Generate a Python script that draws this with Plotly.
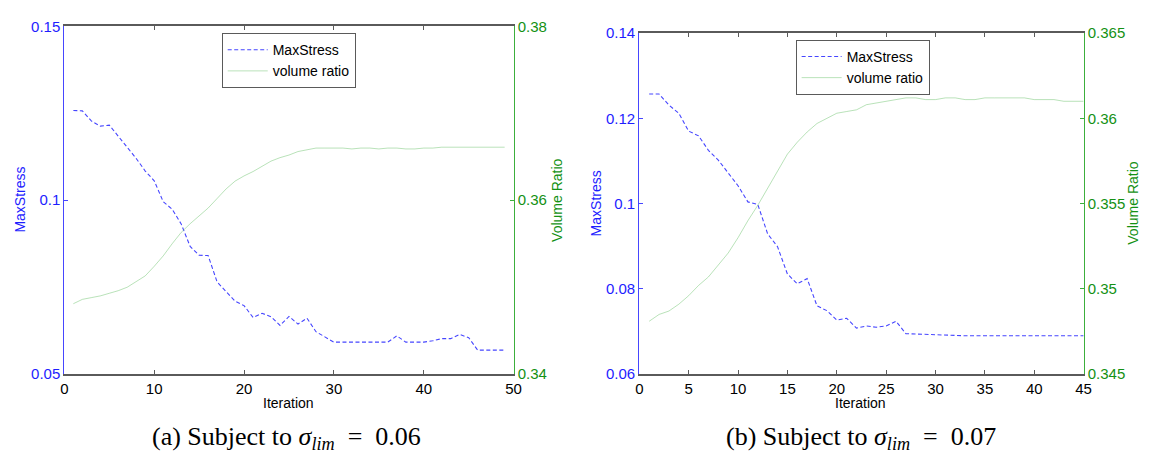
import plotly.graph_objects as go

# ---------------- data ----------------
iter_a = list(range(1, 50))
stress_a = [0.1258, 0.1257, 0.1228, 0.1213, 0.1216, 0.1185, 0.1153, 0.1120, 0.1084, 0.1056,
            0.0996, 0.0974, 0.0932, 0.0867, 0.0842, 0.0841, 0.0765, 0.0737, 0.0710, 0.0697,
            0.0663, 0.0675, 0.0665, 0.0640, 0.0666, 0.0644, 0.0661, 0.0622, 0.0608, 0.0592,
            0.0592, 0.0592, 0.0592, 0.0592, 0.0592, 0.0592, 0.0610, 0.0592, 0.0592, 0.0592,
            0.0596, 0.0602, 0.0602, 0.0614, 0.0605, 0.0569, 0.0569, 0.0569, 0.0569]
volume_a = [0.3481, 0.3486, 0.3488, 0.3490, 0.3493, 0.3496, 0.3500, 0.3506, 0.3513, 0.3524,
            0.3536, 0.3550, 0.3563, 0.3573, 0.3582, 0.3591, 0.3602, 0.3613, 0.3622, 0.3628,
            0.3633, 0.3639, 0.3645, 0.3649, 0.3652, 0.3656, 0.3658, 0.3660, 0.3660, 0.3660,
            0.3660, 0.3659, 0.3660, 0.3660, 0.3659, 0.3660, 0.3660, 0.3659, 0.3659, 0.3660,
            0.3660, 0.3661, 0.3661, 0.3661, 0.3661, 0.3661, 0.3661, 0.3661, 0.3661]

iter_b = list(range(1, 46))
stress_b = [0.1257, 0.1257, 0.1231, 0.1212, 0.1170, 0.1159, 0.1125, 0.1102, 0.1072, 0.1042,
            0.1004, 0.0998, 0.0929, 0.0899, 0.0835, 0.0812, 0.0824, 0.0760, 0.0749, 0.0727,
            0.0731, 0.0708, 0.0713, 0.0710, 0.0713, 0.0724, 0.0695, 0.0694, 0.0694, 0.0693,
            0.0691, 0.0690, 0.0690, 0.0690, 0.0690, 0.0690, 0.0690, 0.0690, 0.0690, 0.0690,
            0.0690, 0.0690, 0.0690, 0.0690, 0.0690]
volume_b = [0.3481, 0.3485, 0.3487, 0.3491, 0.3496, 0.3502, 0.3507, 0.3514, 0.3521, 0.3530,
            0.3540, 0.3549, 0.3559, 0.3569, 0.3579, 0.3586, 0.3592, 0.3597, 0.3600, 0.3603,
            0.3604, 0.3605, 0.3608, 0.3609, 0.3610, 0.3611, 0.3612, 0.3612, 0.3611, 0.3611,
            0.3612, 0.3612, 0.3611, 0.3611, 0.3612, 0.3612, 0.3612, 0.3612, 0.3612, 0.3611,
            0.3611, 0.3611, 0.3610, 0.3610, 0.3610]

legend_names = ["MaxStress", "volume ratio"]
captions = ["(a) Subject to <i>σ</i><sub><i>lim</i></sub>&nbsp;&nbsp;=&nbsp;&nbsp;0.06",
            "(b) Subject to <i>σ</i><sub><i>lim</i></sub>&nbsp;&nbsp;=&nbsp;&nbsp;0.07"]

# ---------------- style ----------------
W, H = 1150, 465
BLUE_LINE = "rgb(70,70,255)"
BLUE_TXT = "rgb(30,30,255)"
GREEN_AX = "rgb(60,175,60)"
GREEN_TXT = "rgb(20,145,20)"
GREEN_LINE = "rgba(100,190,100,0.45)"
GRAY = "rgb(90,90,90)"
SANS = "Liberation Sans, Arial, sans-serif"
SERIF = "Liberation Serif, Times New Roman, serif"

def px(x):
    return x / W

def py(y):
    return 1 - y / H

fig = go.Figure()

dash = "4px,2.5px"
fig.add_trace(go.Scatter(x=iter_a, y=stress_a, name=legend_names[0], mode="lines",
                         line=dict(color=BLUE_LINE, width=1.1, dash=dash),
                         xaxis="x", yaxis="y", legend="legend"))
fig.add_trace(go.Scatter(x=iter_a, y=volume_a, name=legend_names[1], mode="lines",
                         line=dict(color=GREEN_LINE, width=1),
                         xaxis="x", yaxis="y2", legend="legend"))
fig.add_trace(go.Scatter(x=iter_b, y=stress_b, name=legend_names[0], mode="lines",
                         line=dict(color=BLUE_LINE, width=1.1, dash=dash),
                         xaxis="x2", yaxis="y3", legend="legend2"))
fig.add_trace(go.Scatter(x=iter_b, y=volume_b, name=legend_names[1], mode="lines",
                         line=dict(color=GREEN_LINE, width=1),
                         xaxis="x2", yaxis="y4", legend="legend2"))

xa_common = dict(showgrid=False, zeroline=False, showline=True, linecolor=GRAY, linewidth=1.5,
                 mirror="ticks", ticks="inside", ticklen=4, tickcolor=GRAY,
                 tickfont=dict(family=SANS, size=15, color="black"))
yl_common = dict(showgrid=False, zeroline=False, showline=True, linecolor=BLUE_LINE, linewidth=1.2,
                 ticks="inside", ticklen=4, tickcolor=BLUE_LINE,
                 tickfont=dict(family=SANS, size=15, color=BLUE_TXT))
yr_common = dict(showgrid=False, zeroline=False, showline=True, linecolor=GREEN_AX, linewidth=1.2,
                 ticks="inside", ticklen=4, tickcolor=GREEN_AX, side="right",
                 tickfont=dict(family=SANS, size=15, color=GREEN_TXT))

dom_a = [px(61), px(515)]
dom_b = [px(642), px(1091)]
ydom_a = [py(379), py(18)]
ydom_b = [py(379), py(25)]

fig.update_layout(
    width=W, height=H,
    margin=dict(l=0, r=0, t=0, b=0),
    paper_bgcolor="white", plot_bgcolor="white",
    xaxis=dict(domain=dom_a, range=[0, 50], dtick=10, anchor="y", **xa_common),
    yaxis=dict(domain=ydom_a, range=[0.05, 0.15], dtick=0.05, anchor="x", **yl_common),
    yaxis2=dict(range=[0.34, 0.38], dtick=0.02, anchor="x", overlaying="y", **yr_common),
    xaxis2=dict(domain=dom_b, range=[0, 45], dtick=5, anchor="y3", **xa_common),
    yaxis3=dict(domain=ydom_b, range=[0.06, 0.14], dtick=0.02, anchor="x2", **yl_common),
    yaxis4=dict(range=[0.345, 0.365], dtick=0.005, anchor="x2", overlaying="y3", **yr_common),
    legend=dict(x=px(220), y=py(25), xanchor="left", yanchor="top",
                bgcolor="white", bordercolor=GRAY, borderwidth=1,
                font=dict(family=SANS, size=14, color="black"),
                itemwidth=40, tracegroupgap=0),
    legend2=dict(x=px(800), y=py(32), xanchor="left", yanchor="top",
                 bgcolor="white", bordercolor=GRAY, borderwidth=1,
                 font=dict(family=SANS, size=14, color="black"),
                 itemwidth=40, tracegroupgap=0),
    showlegend=True,
)

ann = []
def add_text(x, y, text, color, size, family=SANS, angle=0):
    ann.append(dict(x=px(x), y=py(y), xref="paper", yref="paper", text=text, showarrow=False,
                    xanchor="center", yanchor="middle", textangle=angle,
                    font=dict(family=family, size=size, color=color)))

add_text(16, 198, "MaxStress", BLUE_TXT, 14, angle=-90)
add_text(559, 199, "Volume Ratio", GREEN_TXT, 14, angle=-90)
add_text(288, 409, "Iteration", "black", 14)
add_text(598, 202, "MaxStress", BLUE_TXT, 14, angle=-90)
add_text(1141, 202, "Volume Ratio", GREEN_TXT, 14, angle=-90)
add_text(866, 409, "Iteration", "black", 14)
add_text(285, 445, captions[0], "black", 26, family=SERIF)
add_text(866, 445, captions[1], "black", 26, family=SERIF)
fig.update_layout(annotations=ann)

fig.write_html("out.html")
